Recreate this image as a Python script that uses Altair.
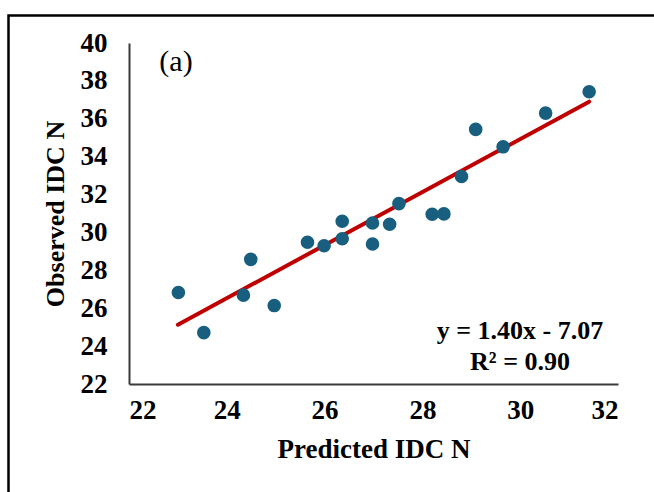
import altair as alt
import pandas as pd

predicted = [23.01, 23.53, 24.49, 24.34, 24.97, 25.65, 25.99, 26.36, 26.36, 26.98,
             26.98, 27.33, 27.52, 28.20, 28.44, 28.80, 29.09, 29.65, 30.52, 31.41]
observed = [26.83, 24.71, 28.58, 26.69, 26.14, 29.48, 29.30, 30.59, 29.67, 30.50,
            29.39, 30.43, 31.52, 30.96, 30.98, 32.95, 35.44, 34.52, 36.30, 37.43]

slope = 1.40
intercept = -7.07
fit_x = [23.0, 31.41]
fit_y = [slope * v + intercept for v in fit_x]

x_ticks = [22, 24, 26, 28, 30, 32]
y_ticks = [22, 24, 26, 28, 30, 32, 34, 36, 38, 40]

pts = pd.DataFrame({"x": predicted, "y": observed})
fit = pd.DataFrame({"x": fit_x, "y": fit_y})
one = pd.DataFrame({"k": [0]})

FONT = "Liberation Serif"
W, H = 489, 341

xs = alt.Scale(domain=[22, 32], nice=False, zero=False)
ys = alt.Scale(domain=[22, 40], nice=False, zero=False)

xaxis = alt.Axis(values=x_ticks, title="Predicted IDC N", grid=False, ticks=False,
                 domainColor="#3a3a3a", domainWidth=2, labelFont=FONT, labelFontSize=27,
                 labelFontWeight="bold", labelColor="black", labelPadding=13,
                 labelOverlap=False,
                 titleFont=FONT, titleFontSize=27, titleFontWeight="bold",
                 titleColor="black", titlePadding=13)
yaxis = alt.Axis(values=y_ticks, title="Observed IDC N", grid=False, ticks=False,
                 domainColor="#3a3a3a", domainWidth=2, labelFont=FONT, labelFontSize=27,
                 labelFontWeight="bold", labelColor="black", labelPadding=22,
                 labelOverlap=False,
                 titleFont=FONT, titleFontSize=26, titleFontWeight="bold",
                 titleColor="black", titlePadding=12)

points = alt.Chart(pts).mark_circle(size=185, opacity=1, color="#185f7f").encode(
    x=alt.X("x:Q", scale=xs, axis=xaxis),
    y=alt.Y("y:Q", scale=ys, axis=yaxis),
)

line = alt.Chart(fit).mark_line(color="#c00000", strokeWidth=4, strokeCap="round").encode(
    x=alt.X("x:Q", scale=xs, axis=xaxis),
    y=alt.Y("y:Q", scale=ys, axis=yaxis),
)

border = alt.Chart(one).mark_rect(filled=False, stroke="black", strokeWidth=2.5).encode(
    x=alt.value(-120.5), x2=alt.value(560), y=alt.value(-27.5), y2=alt.value(480)
)

label_a = alt.Chart(one).mark_text(font=FONT, fontSize=30, align="center", baseline="alphabetic",
                                   color="black").encode(
    x=alt.value(47), y=alt.value(28), text=alt.value("(a)")
)
eq1 = alt.Chart(one).mark_text(font=FONT, fontSize=26, fontWeight="bold", align="center",
                               baseline="alphabetic", color="black").encode(
    x=alt.value(391), y=alt.value(296), text=alt.value("y = 1.40x - 7.07")
)
eq2 = alt.Chart(one).mark_text(font=FONT, fontSize=26, fontWeight="bold", align="center",
                               baseline="alphabetic", color="black").encode(
    x=alt.value(391), y=alt.value(327), text=alt.value("R² = 0.90")
)

chart = alt.layer(border, line, points, label_a, eq1, eq2).properties(
    width=W, height=H,
    autosize=alt.AutoSizeParams(type="none"),
    padding={"left": 129, "top": 43, "right": 36, "bottom": 108},
    background="white",
).configure_view(stroke=None).configure_axis(labelOverlap=False)

chart.save("out.html", embed_options={"renderer": "svg", "actions": False})
